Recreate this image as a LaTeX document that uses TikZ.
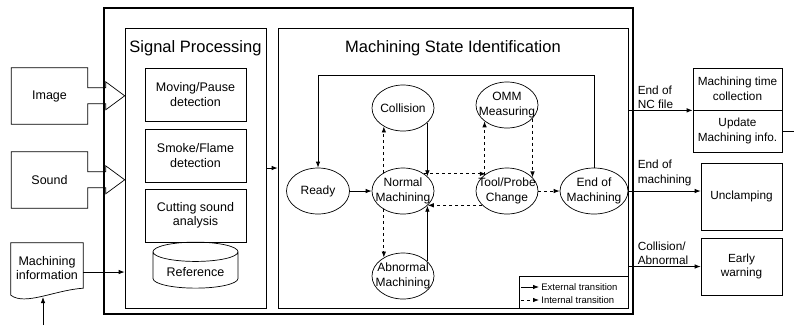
\documentclass[tikz,border=0pt]{standalone}
\usepackage{fontspec}
\setmainfont{Liberation Sans}
\usetikzlibrary{shapes.geometric,arrows.meta}

\begin{document}
\begin{tikzpicture}[x=1pt,y=-1pt,
    ext/.style={-{Latex[length=6pt,width=4.5pt]}, line width=0.8pt},
    intern/.style={ext, dashed},
    mstate/.style={ellipse, draw, line width=0.7pt, minimum width=62pt,
      minimum height=46pt, inner xsep=-12pt, inner ysep=-6pt, align=center,
      font=\fontsize{12}{14.5}\selectfont},
    block/.style={rectangle, draw, line width=0.7pt, align=center,
      inner sep=1pt, font=\fontsize{12.5}{14.5}\selectfont},
    outblock/.style={block, font=\fontsize{11.8}{14.5}\selectfont},
    title/.style={font=\fontsize{16.5}{18}\selectfont},
    tag/.style={align=left, inner sep=1pt, font=\fontsize{11.8}{14.5}\selectfont}]
  \useasboundingbox (0,0) rectangle (794,325);
  % Inputs
  \node[minimum width=76pt, minimum height=56pt, font=\fontsize{12.5}{14}\selectfont] (img) at (49.5,96) {Image};
  \node[minimum width=76pt, minimum height=56pt, font=\fontsize{12.5}{14}\selectfont] (snd) at (49.5,180) {Sound};
  \foreach \n in {img,snd}
    \draw[line width=0.7pt] (\n.north east) -- ++(0,20) -- ++(18,0) -- ++(0,-6)
      -- ++(19,14) -- ++(-19,14) -- ++(0,-6) -- ++(-18,0) -- (\n.south east)
      -- (\n.south west) -- (\n.north west) -- cycle;
  \node[minimum width=72pt, minimum height=50pt, align=center, font=\fontsize{12.5}{14}\selectfont] (info) at (47,268) {Machining\\information};
  \draw[line width=0.7pt] (info.north west) -- (info.north east) -- ([yshift=5pt]info.south east)
    .. controls (55,290) and (25,306) .. ([yshift=-2pt]info.south west) -- cycle;
  \coordinate (feed) at (43,325);
  % Frame
  \node[draw, line width=2.5pt, minimum width=529pt, minimum height=306pt, inner sep=0pt] (sys) at (368.5,161) {};
  % Signal processing
  \node[block, minimum width=141pt, minimum height=280pt] (sp) at (195.5,168) {};
  \node[title] (sptitle) at (195.5,48) {Signal Processing};
  \node[block, minimum width=101pt, minimum height=53pt] (move) at (195.5,94.5) {Moving/Pause\\detection};
  \node[block, minimum width=101pt, minimum height=53pt] (smoke) at (195.5,155.5) {Smoke/Flame\\detection};
  \node[block, minimum width=101pt, minimum height=53pt] (cut) at (195.5,215.5) {Cutting sound\\analysis};
  \node[cylinder, shape border rotate=90, draw, line width=0.7pt, aspect=0.3,
    minimum width=85pt, minimum height=46pt, font=\fontsize{12.5}{14}\selectfont] (ref) at (195.5,272) {Reference};
  \draw[ext] ([yshift=-4pt]info.east) -- ([yshift=-4pt]info.east -| sp.west);
  \draw[ext] (feed) -- (feed |- 0,297);
  % State identification
  \node[block, minimum width=350pt, minimum height=280pt] (msi) at (453,168) {};
  \node[title] (msititle) at (453,48) {Machining State Identification};
  \draw[ext] (sp.east) -- (msi.west);
  \node[mstate, minimum width=63pt] (ready) at (318,191) {Ready};
  \node[mstate] (normal) at (403,191) {Normal\\Machining};
  \node[mstate] (coll) at (403,108) {Collision};
  \node[mstate] (abn) at (403,276) {Abnormal\\Machining};
  \node[mstate] (omm) at (507,105) {OMM\\Measuring};
  \node[mstate] (tool) at (507,191) {Tool/Probe\\Change};
  \node[mstate, minimum width=68pt] (endm) at (594,191) {End of\\Machining};
  \coordinate (top) at (318,75);
  \draw[ext] (ready) -- (normal);
  \draw[ext] (coll.-31) -- (normal.31);
  \draw[ext] (abn.31) -- (normal.-31);
  \draw[intern] (normal.136) -- (coll.-136);
  \draw[intern] (normal.-136) -- (abn.136);
  \draw[intern] (normal.39) -- (tool.141);
  \draw[intern] (tool.-150) -- (normal.-30);
  \draw[intern] (tool.144) -- (omm.-144);
  \draw[intern] (omm.-28) -- (tool.28);
  \draw[intern] (tool) -- (endm);
  \draw[ext] (endm.north) |- (top) -- (ready.north);
  % Legend
  \node[draw, line width=0.5pt, minimum width=109pt, minimum height=32pt, inner sep=0pt] (legend) at (573.5,292) {};
  \coordinate (le) at (521,287);
  \coordinate (li) at (521,300);
  \draw[ext] (le) -- ++(18,0) node[right, inner sep=2pt, font=\fontsize{9.5}{10}\selectfont] (legext) {External transition};
  \draw[intern] (li) -- ++(18,0) node[right, inner sep=2pt, font=\fontsize{9.5}{10}\selectfont] (legint) {Internal transition};
  % Outputs
  \node[outblock, minimum width=89pt, minimum height=42pt] (mtc) at (737.5,89) {Machining time\\collection};
  \node[outblock, minimum width=89pt, minimum height=42pt] (upd) at (737.5,131) {Update\\Machining info.};
  \node[outblock, minimum width=81pt, minimum height=67pt] (unc) at (741.5,196.5) {Unclamping};
  \node[outblock, minimum width=81pt, minimum height=57pt] (warn) at (741.5,266.5) {Early\\warning};
  \coordinate (exit) at (794,131);
  \draw[line width=0.7pt] (upd.east) -- (exit);
  \draw[ext] (msi.east |- mtc.south west) -- (mtc.south west)
    node[pos=0, anchor=south west, xshift=8pt, tag] (nclab) {End of\\NC file};
  \draw[ext] (endm.east) -- (endm.east -| unc.west)
    node[pos=0, anchor=south west, xshift=8pt, yshift=4pt, tag] (endlab) {End of\\machining};
  \draw[ext] (msi.east |- warn.west) -- (warn.west)
    node[pos=0, anchor=south west, xshift=8pt, tag] (colllab) {Collision/\\Abnormal};
\end{tikzpicture}
\end{document}
